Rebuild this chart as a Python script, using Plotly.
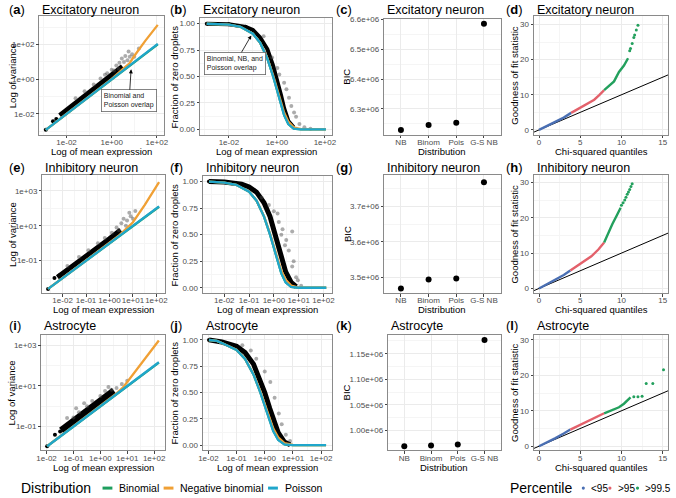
import plotly.graph_objects as go

W, H = 676, 498

# ------------------------------------------------------------------ data
cell_types = ["Excitatory neuron", "Inhibitory neuron", "Astrocyte"]
panel_tags = ["a", "b", "c", "d", "e", "f", "g", "h", "i", "j", "k", "l"]
dist_labels = ["NB", "Binom", "Pois", "G-S NB"]

# BIC per distribution
bic_exc = [6.229e6, 6.246e6, 6.2535e6, 6.5857e6]
bic_inh = [3.4694e6, 3.4944e6, 3.4972e6, 3.7675e6]
bic_ast = [0.969e6, 0.9705e6, 0.9725e6, 1.1771e6]

# ---- mean vs variance: fitted curves
exc_fit_mean = [1.2e-3, 1.0, 4.0, 6.0, 10.0, 30.0, 110.0]
exc_pois_var = [1.2e-3, 1.0, 4.0, 6.0, 10.0, 30.0, 110.0]
exc_binom_var = [1.2e-3, 1.0, 3.98, 5.97, 9.9, 29.2, 104.0]
exc_nb_var = [1.2e-3, 1.05, 5.2, 8.0, 22.0, 160.0, 1380.0]

inh_fit_mean = [2.4e-3, 1.0, 2.4, 10.0, 32.0, 130.0]
inh_pois_var = [2.4e-3, 1.0, 2.4, 10.0, 32.0, 130.0]
inh_binom_var = [2.4e-3, 1.0, 2.39, 9.9, 31.0, 124.0]
inh_nb_var = [2.4e-3, 1.02, 2.6, 16.0, 160.0, 3200.0]

ast_fit_mean = [1.05e-2, 1.0, 4.0, 7.0, 20.0, 150.0]
ast_pois_var = [1.05e-2, 1.0, 4.0, 7.0, 20.0, 150.0]
ast_binom_var = [1.05e-2, 1.0, 3.98, 6.95, 19.6, 142.0]
ast_nb_var = [1.05e-2, 1.02, 4.3, 8.5, 52.0, 1780.0]

# ---- mean vs variance: observed genes (dense core, isolated, scattered)
exc_core_mean = [5e-3, 1e-2, 3e-2, 0.1, 0.3, 1.0, 3.0]
exc_core_var = [8e-3, 1.6e-2, 4.8e-2, 0.16, 0.48, 1.6, 5.5]
exc_dot_mean = [1.2e-3, 2.5e-3, 3.5e-3]
exc_dot_var = [1.2e-3, 3.8e-3, 5e-3]
exc_gray_mean = [0.025, 0.063, 0.16, 0.32, 0.5, 0.63, 1.0, 1.26, 1.6, 2.0,
                 2.2, 2.8, 3.5, 4.0, 5.0, 5.6, 6.3, 8.0, 10.0, 16.0]
exc_gray_var = [0.079, 0.2, 0.5, 1.12, 1.8, 2.2, 3.5, 3.2, 6.3, 4.0,
                8.9, 16.0, 10.0, 22.0, 12.6, 40.0, 20.0, 28.0, 20.0, 59.0]

inh_core_mean = [6e-3, 1e-2, 3e-2, 0.1, 0.3, 1.0, 3.0]
inh_core_var = [1.1e-2, 1.8e-2, 5.4e-2, 0.18, 0.54, 1.8, 5.8]
inh_dot_mean = [2.4e-3, 4.5e-3, 7.2e-3]
inh_dot_var = [2.4e-3, 1.0e-2, 1.4e-2]
inh_gray_mean = [0.016, 0.05, 0.126, 0.32, 0.63, 1.26, 2.0, 3.2, 4.0, 5.6,
                 7.0, 8.0, 10.0, 12.6, 5.0, 2.5]
inh_gray_var = [0.05, 0.16, 0.4, 1.0, 2.0, 4.0, 8.0, 14.0, 25.0, 20.0,
                56.0, 35.0, 25.0, 70.0, 10.0, 5.6]

ast_core_mean = [0.035, 0.1, 0.3, 1.0, 3.2]
ast_core_var = [0.063, 0.18, 0.55, 1.8, 5.8]
ast_dot_mean = [1.05e-2, 2.05e-2, 3.2e-2]
ast_dot_var = [1.05e-2, 3.9e-2, 5.6e-2]
ast_gray_mean = [0.058, 0.1, 0.16, 0.32, 0.5, 1.0, 1.5, 2.6, 2.0, 4.0,
                 6.3, 10.0, 0.126, 0.25]
ast_gray_var = [0.26, 0.28, 0.5, 1.0, 1.8, 3.2, 5.6, 6.6, 8.9, 8.0,
                12.6, 18.0, 0.8, 1.4]

# ---- fraction of zero droplets: fitted curves
exc_frac_mean = [1.2e-3, 1e-2, 3e-2, 0.1, 0.2, 0.4, 0.7, 1.0, 1.5, 2.0, 3.0, 5.0, 10.0, 30.0, 110.0]
inh_frac_mean = [2.4e-3, 1e-2, 3e-2, 0.1, 0.2, 0.4, 0.7, 1.0, 1.5, 2.0, 3.0, 5.0, 10.0, 30.0, 130.0]
ast_frac_mean = [1.05e-2, 2e-2, 3e-2, 0.1, 0.2, 0.4, 0.7, 1.0, 1.5, 2.0, 3.0, 5.0, 10.0, 30.0, 150.0]
pois_frac = [0.999, 0.99, 0.97, 0.905, 0.82, 0.67, 0.5, 0.37, 0.22, 0.135, 0.05, 0.007, 0.0, 0.0, 0.0]
binom_frac = [0.999, 0.99, 0.97, 0.905, 0.82, 0.67, 0.5, 0.37, 0.22, 0.136, 0.051, 0.008, 0.0, 0.0, 0.0]
nb_frac = [0.999, 0.99, 0.97, 0.906, 0.82, 0.675, 0.51, 0.39, 0.24, 0.16, 0.075, 0.02, 0.002, 0.0, 0.0]

# ---- fraction of zero droplets: observed genes
exc_fcore_mean = [1.2e-3, 1e-2, 5e-2, 0.1, 0.2, 0.4, 0.7, 1.0, 1.5, 2.0, 3.0, 5.0]
exc_fcore_frac = [1.0, 0.995, 0.97, 0.94, 0.87, 0.76, 0.6, 0.48, 0.32, 0.2, 0.08, 0.02]
exc_fgray_mean = [0.28, 0.63, 1.05, 1.26, 2.0, 2.5, 3.2, 4.0, 5.2, 6.3, 8.7, 14.0, 25.0]
exc_fgray_frac = [0.88, 0.68, 0.58, 0.52, 0.44, 0.38, 0.3, 0.22, 0.16, 0.12, 0.05, 0.02, 0.005]

inh_fcore_mean = [2.4e-3, 1e-2, 5e-2, 0.1, 0.2, 0.4, 0.7, 1.0, 1.5, 2.0, 3.0, 5.0, 8.0]
inh_fcore_frac = [1.0, 0.995, 0.975, 0.95, 0.9, 0.8, 0.67, 0.55, 0.4, 0.3, 0.15, 0.05, 0.01]
inh_fgray_mean = [0.32, 0.63, 1.0, 1.58, 2.24, 3.16, 5.5, 4.0, 5.5, 6.3, 9.3, 2.8, 2.0, 7.9, 12.6, 1.41]
inh_fgray_frac = [0.85, 0.78, 0.72, 0.62, 0.55, 0.45, 0.53, 0.35, 0.2, 0.25, 0.07, 0.4, 0.5, 0.1, 0.02, 0.7]

ast_fcore_mean = [1.05e-2, 3e-2, 0.1, 0.2, 0.4, 0.7, 1.0, 1.5, 2.0, 3.0, 5.0, 8.0]
ast_fcore_frac = [1.0, 0.98, 0.94, 0.88, 0.77, 0.62, 0.5, 0.35, 0.25, 0.12, 0.03, 0.005]
ast_fgray_mean = [0.16, 0.32, 0.5, 1.0, 1.58, 2.24, 3.16, 4.0, 5.6, 7.9]
ast_fgray_frac = [0.95, 0.9, 0.82, 0.7, 0.6, 0.45, 0.3, 0.2, 0.1, 0.04]

# ---- goodness of fit QQ (chi-squared quantile, statistic) by percentile group
exc_q95_x = [0.0, 1.0, 2.0, 3.0, 3.9]
exc_q95_y = [0.0, 1.1, 2.3, 3.5, 4.85]
exc_q99_x = [3.9, 5.0, 6.0, 6.7, 7.3, 7.9]
exc_q99_y = [4.85, 6.3, 7.6, 8.6, 9.9, 11.3]
exc_q995_x = [7.9, 8.5, 9.1, 9.7, 10.3, 10.8]
exc_q995_y = [11.3, 12.6, 13.8, 16.5, 18.3, 20.4]
exc_tail_x = [11.0, 11.1, 11.3, 11.5, 11.6, 11.8, 12.0]
exc_tail_y = [22.5, 23.2, 24.6, 26.3, 27.0, 28.4, 29.8]

inh_q95_x = [0.0, 1.0, 2.0, 3.0, 3.8]
inh_q95_y = [0.0, 1.2, 2.5, 3.8, 5.05]
inh_q99_x = [3.8, 5.0, 6.35, 7.2, 7.9]
inh_q99_y = [5.05, 7.0, 9.1, 11.0, 13.0]
inh_q995_x = [7.9, 8.4, 8.9, 9.4, 9.9]
inh_q995_y = [13.0, 15.8, 18.2, 20.5, 22.8]
inh_tail_x = [10.0, 10.2, 10.4, 10.55, 10.7, 10.85, 11.0, 11.15, 11.3]
inh_tail_y = [23.5, 24.2, 25.0, 25.8, 26.6, 27.3, 28.0, 28.8, 29.6]

ast_q95_x = [0.0, 1.0, 2.0, 3.0, 3.8]
ast_q95_y = [0.0, 1.1, 2.3, 3.6, 4.7]
ast_q99_x = [3.8, 5.0, 6.0, 7.0, 7.9]
ast_q99_y = [4.7, 6.1, 7.3, 8.4, 9.3]
ast_q995_x = [7.9, 8.5, 9.1, 9.7, 10.3, 10.8, 11.1]
ast_q995_y = [9.3, 9.9, 10.4, 11.0, 12.0, 13.0, 13.8]
ast_tail_x = [11.5, 12.0, 12.5, 13.0, 13.8, 15.1]
ast_tail_y = [14.0, 14.0, 14.1, 17.7, 17.7, 21.6]

ref_line = [-2.0, 17.0]   # y = x reference

# ------------------------------------------------------------------ style
FONT = "Liberation Sans, Arial, sans-serif"
GRID = "#EBEBEB"
MINOR = "#F5F5F5"
TICKC = "#4D4D4D"
BORDER = "#8A8A8A"
C_BINOM = "#1E9E5E"
C_NB = "#F0A035"
C_POIS = "#1FA6CB"
C_P95 = "#4A6FB3"
C_P99 = "#E3616B"
C_P995 = "#23A05D"
GRAYPT = "rgba(70,70,70,0.45)"

boxes = {1: (35, 161, 12, 132), 2: (198, 332, 14.5, 132), 3: (385, 503, 15, 132), 4: (537, 673, 12, 132),
         5: (38, 162, 173, 292), 6: (201, 332, 174, 292), 7: (385, 503, 173, 292), 8: (537, 673, 173, 292),
         9: (37, 162, 334, 451), 10: (201, 332, 334, 451), 11: (389, 503, 334, 451), 12: (537, 673, 334, 451)}

fig = go.Figure()


def names(p):
    s = "" if p == 1 else str(p)
    return "x" + s, "y" + s, "xaxis" + s, "yaxis" + s


def add(p, tr):
    xa, ya, _, _ = names(p)
    tr.update(xaxis=xa, yaxis=ya, showlegend=False, hoverinfo="skip")
    fig.add_trace(tr)


def minor(vals):
    return dict(tickvals=vals, showgrid=True, gridcolor=MINOR, gridwidth=0.6, ticks="")


def set_axes(p, xcfg, ycfg):
    xa, ya, xk, yk = names(p)
    x0, x1, y0, y1 = boxes[p]
    common = dict(showline=True, mirror=True, linecolor=BORDER, linewidth=0.9,
                  ticks="outside", ticklen=2.5, tickwidth=0.8, tickcolor="#444444",
                  tickfont=dict(family=FONT, size=8, color=TICKC), tickangle=0,
                  showgrid=True, gridcolor=GRID, gridwidth=0.8, zeroline=False,
                  fixedrange=True)
    xd = dict(common, domain=[x0 / W, x1 / W], anchor=ya, ticklabelstandoff=-3)
    xd.update(xcfg)
    yd = dict(common, domain=[1 - y1 / H, 1 - y0 / H], anchor=xa)
    yd.update(ycfg)
    fig.update_layout({xk: xd, yk: yd})


def ann(x, y, text, size, color="black", xanchor="center", yanchor="middle", **kw):
    fig.add_annotation(xref="paper", yref="paper", x=x / W, y=1 - y / H, text=text,
                       showarrow=False, xanchor=xanchor, yanchor=yanchor,
                       font=dict(family=FONT, size=size, color=color), **kw)


# ------------------------------------------------------------------ panels
mv_sets = [
    (1, exc_fit_mean, exc_pois_var, exc_binom_var, exc_nb_var, exc_core_mean, exc_core_var,
     exc_dot_mean, exc_dot_var, exc_gray_mean, exc_gray_var),
    (5, inh_fit_mean, inh_pois_var, inh_binom_var, inh_nb_var, inh_core_mean, inh_core_var,
     inh_dot_mean, inh_dot_var, inh_gray_mean, inh_gray_var),
    (9, ast_fit_mean, ast_pois_var, ast_binom_var, ast_nb_var, ast_core_mean, ast_core_var,
     ast_dot_mean, ast_dot_var, ast_gray_mean, ast_gray_var),
]
for (p, fm, pv, bv, nv, cm, cv, dm, dv, gm, gv) in mv_sets:
    add(p, go.Scatter(x=cm, y=cv, mode="lines", line=dict(color="black", width=5 if p != 9 else 7)))
    add(p, go.Scatter(x=gm, y=gv, mode="markers", marker=dict(color=GRAYPT, size=4)))
    add(p, go.Scatter(x=dm, y=dv, mode="markers", marker=dict(color="black", size=4)))
    add(p, go.Scatter(x=fm, y=bv, mode="lines", line=dict(color=C_BINOM, width=2.3)))
    add(p, go.Scatter(x=fm, y=nv, mode="lines", line=dict(color=C_NB, width=2.3)))
    add(p, go.Scatter(x=fm, y=pv, mode="lines", line=dict(color=C_POIS, width=2.3)))

fz_sets = [
    (2, exc_frac_mean, exc_fcore_mean, exc_fcore_frac, exc_fgray_mean, exc_fgray_frac, 4),
    (6, inh_frac_mean, inh_fcore_mean, inh_fcore_frac, inh_fgray_mean, inh_fgray_frac, 5),
    (10, ast_frac_mean, ast_fcore_mean, ast_fcore_frac, ast_fgray_mean, ast_fgray_frac, 5),
]
for (p, fm, cm, cf, gm, gf, bw) in fz_sets:
    add(p, go.Scatter(x=cm, y=cf, mode="lines", line=dict(color="black", width=bw)))
    add(p, go.Scatter(x=cm[:3], y=cf[:3], mode="markers", marker=dict(color="black", size=4)))
    add(p, go.Scatter(x=gm, y=gf, mode="markers", marker=dict(color=GRAYPT, size=4)))
    add(p, go.Scatter(x=fm, y=binom_frac, mode="lines", line=dict(color=C_BINOM, width=2.3)))
    add(p, go.Scatter(x=fm, y=nb_frac, mode="lines", line=dict(color=C_NB, width=2.3)))
    add(p, go.Scatter(x=fm, y=pois_frac, mode="lines", line=dict(color=C_POIS, width=2.3)))

for p, vals in [(3, bic_exc), (7, bic_inh), (11, bic_ast)]:
    add(p, go.Scatter(x=dist_labels, y=vals, mode="markers", marker=dict(color="black", size=6)))

qq_sets = [
    (4, exc_q95_x, exc_q95_y, exc_q99_x, exc_q99_y, exc_q995_x, exc_q995_y, exc_tail_x, exc_tail_y),
    (8, inh_q95_x, inh_q95_y, inh_q99_x, inh_q99_y, inh_q995_x, inh_q995_y, inh_tail_x, inh_tail_y),
    (12, ast_q95_x, ast_q95_y, ast_q99_x, ast_q99_y, ast_q995_x, ast_q995_y, ast_tail_x, ast_tail_y),
]
for (p, ax_, ay_, bx, by, cx, cy, tx, ty) in qq_sets:
    add(p, go.Scatter(x=ref_line, y=ref_line, mode="lines", line=dict(color="black", width=1)))
    add(p, go.Scatter(x=ax_, y=ay_, mode="lines", line=dict(color=C_P95, width=2.4)))
    add(p, go.Scatter(x=bx, y=by, mode="lines", line=dict(color=C_P99, width=2.4)))
    add(p, go.Scatter(x=cx, y=cy, mode="lines", line=dict(color=C_P995, width=2.4)))
    add(p, go.Scatter(x=tx, y=ty, mode="markers", marker=dict(color=C_P995, size=3)))

# ------------------------------------------------------------------ axes
def log_axis(rng, major, labels, minors):
    return dict(type="log", range=rng, tickvals=major, ticktext=labels, minor=minor(minors))


lab2 = ["1e-02", "1e+00", "1e+02"]
lab1 = ["1e-02", "1e-01", "1e+00", "1e+01", "1e+02"]
dec1 = [1e-2, 1e-1, 1.0, 1e1, 1e2]
half = [10 ** (k + 0.5) for k in range(-3, 3)]
frac_y = dict(range=[-0.05, 1.05], tickvals=[0, 0.25, 0.5, 0.75, 1.0],
              ticktext=["0.00", "0.25", "0.50", "0.75", "1.00"], minor=minor([0.125, 0.375, 0.625, 0.875]))
cat_x = dict(type="category", range=[-0.6, 3.6], categoryorder="array", categoryarray=dist_labels)
qq_x = dict(range=[-0.6, 15.65], tickvals=[0, 5, 10, 15], minor=minor([2.5, 7.5, 12.5]))


def qq_y(rng):
    return dict(range=rng, tickvals=[0, 10, 20, 30], minor=minor([5, 15, 25]))


set_axes(1, log_axis([-3.2, 2.3], [1e-2, 1, 1e2], lab2, [1e-3, 1e-1, 1e1]),
         log_axis([-3.2, 3.66], [1e-2, 1, 1e2], lab2, [1e-3, 1e-1, 1e1, 1e3]))
set_axes(2, log_axis([-3.2, 2.3], [1e-2, 1, 1e2], lab2, [1e-3, 1e-1, 1e1]), frac_y)
set_axes(3, cat_x, dict(range=[6.2136e6, 6.6023e6], tickvals=[6.3e6, 6.4e6, 6.5e6, 6.6e6],
                        ticktext=["6.3e+06", "6.4e+06", "6.5e+06", "6.6e+06"],
                        minor=minor([6.25e6, 6.35e6, 6.45e6, 6.55e6])))
set_axes(4, qq_x, qq_y([-1.35, 32.45]))

set_axes(5, log_axis([-2.86, 2.35], dec1, lab1, half),
         log_axis([-2.86, 3.9], [1e-1, 1e1, 1e3], ["1e-01", "1e+01", "1e+03"], [1e-2, 1.0, 1e2]))
set_axes(6, log_axis([-2.86, 2.35], dec1, lab1, half), frac_y)
set_axes(7, cat_x, dict(range=[3.4564e6, 3.787e6], tickvals=[3.5e6, 3.6e6, 3.7e6],
                        ticktext=["3.5e+06", "3.6e+06", "3.7e+06"],
                        minor=minor([3.55e6, 3.65e6, 3.75e6])))
set_axes(8, qq_x, qq_y([-1.3, 32.0]))

set_axes(9, log_axis([-2.19, 2.39], dec1, lab1, half),
         log_axis([-2.19, 3.54], [1e-1, 1e1, 1e3], ["1e-01", "1e+01", "1e+03"], [1e-2, 1.0, 1e2]))
set_axes(10, log_axis([-2.19, 2.39], dec1, lab1, half), frac_y)
set_axes(11, cat_x, dict(range=[0.9607e6, 1.1874e6], tickvals=[1.0e6, 1.05e6, 1.1e6, 1.15e6],
                         ticktext=["1.00e+06", "1.05e+06", "1.10e+06", "1.15e+06"],
                         minor=minor([0.975e6, 1.025e6, 1.075e6, 1.125e6, 1.175e6])))
set_axes(12, qq_x, qq_y([-1.2, 31.5]))

# ------------------------------------------------------------------ titles
row_title_y = [6, 165.5, 325]
tag_x = [2, 165, 334, 506]
for r in range(3):
    for c in range(4):
        p = r * 4 + c + 1
        ann(tag_x[c], row_title_y[r], "(<b>%s</b>)" % panel_tags[p - 1], 13, xanchor="left")
        ann(boxes[p][0] + 1, row_title_y[r], cell_types[r], 12.5, xanchor="left")

ytitle_x = [7, 172.5, 347, 517]
ytitles = ["Log of variance", "Fraction of zero droplets", "BIC", "Goodness of fit statistic"]
xtitles = ["Log of mean expression", "Log of mean expression", "Distribution", "Chi-squared quantiles"]
for p, (x0, x1, y0, y1) in boxes.items():
    c = (p - 1) % 4
    ann(ytitle_x[c], (y0 + y1) / 2, ytitles[c], 9.5, textangle=-90)
    ann((x0 + x1) / 2, y1 + 17, xtitles[c], 9.5)

# callouts
fig.add_annotation(xref="paper", yref="paper", x=128 / W, y=1 - 66 / H, ax=-2, ay=31.5,
                   text="Binomial and<br>Poisson overlap", align="left", showarrow=True,
                   arrowhead=2, arrowsize=1, arrowwidth=0.8, arrowcolor="black",
                   bgcolor="white", bordercolor="#666666", borderwidth=0.8, borderpad=2,
                   font=dict(family=FONT, size=7, color="#222222"))
fig.add_annotation(xref="paper", yref="paper", x=250 / W, y=1 - 31.7 / H, ax=-16.2, ay=28,
                   text="Binomial, NB, and<br>Poisson overlap", align="left", showarrow=True,
                   arrowhead=2, arrowsize=1, arrowwidth=0.8, arrowcolor="black",
                   bgcolor="white", bordercolor="#666666", borderwidth=0.8, borderpad=2,
                   font=dict(family=FONT, size=7, color="#222222"))

# ------------------------------------------------------------------ legends
LY = 489
ann(14, LY, "Distribution", 14, xanchor="left")
legend_items = [(C_BINOM, "Binomial", 99), (C_NB, "Negative binomial", 161), (C_POIS, "Poisson", 267)]
for col, txt, kx in legend_items:
    fig.add_shape(type="line", xref="paper", yref="paper", x0=kx / W, x1=(kx + 10) / W,
                  y0=1 - LY / H, y1=1 - LY / H, line=dict(color=col, width=3))
    ann(kx + 15, LY, txt, 10.5, xanchor="left")

ann(511, LY, "Percentile", 14, xanchor="left")
pct_items = [(C_P95, "&lt;95", 587), (C_P99, "&gt;95", 614), (C_P995, "&gt;99.5", 642)]
for col, txt, cx in pct_items:
    fig.add_shape(type="circle", xref="paper", yref="paper", x0=(cx - 1.6) / W, x1=(cx + 1.6) / W,
                  y0=1 - (LY + 1.6) / H, y1=1 - (LY - 1.6) / H, fillcolor=col, line=dict(width=0))
    ann(cx + 6, LY, txt, 10, xanchor="left")

fig.update_layout(width=W, height=H, margin=dict(l=0, r=0, t=0, b=0),
                  paper_bgcolor="white", plot_bgcolor="white",
                  font=dict(family=FONT), showlegend=False)

fig.write_html("out.html", config={"displayModeBar": False},
               post_script="document.body.style.margin='0';document.body.style.padding='0';"
                           "document.body.style.overflow='hidden';")
